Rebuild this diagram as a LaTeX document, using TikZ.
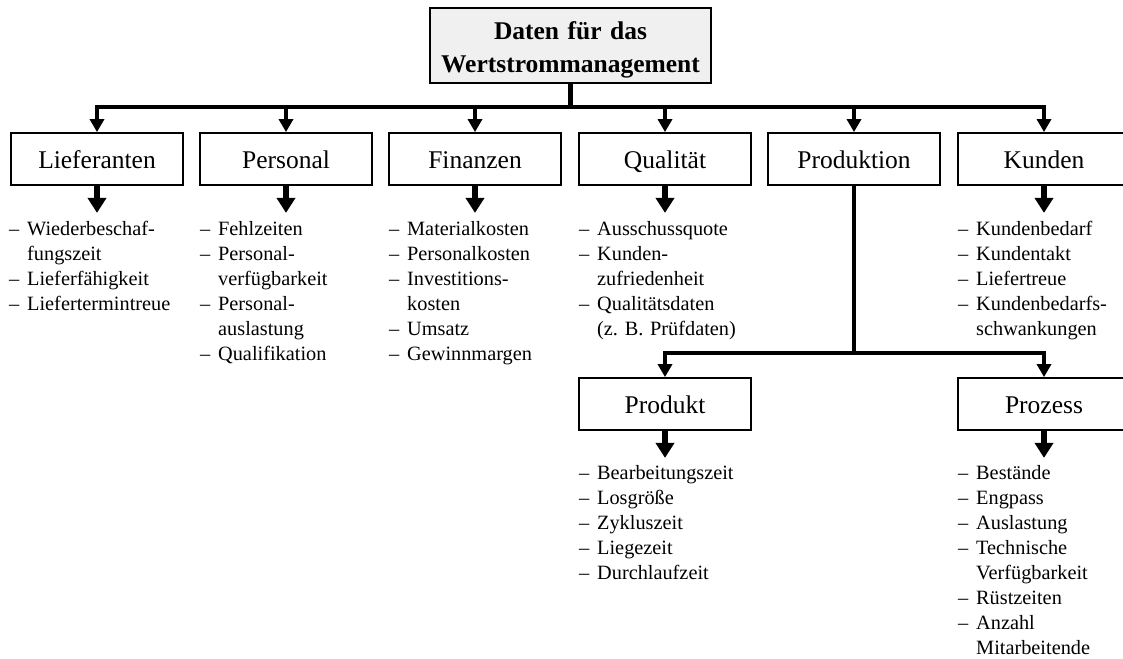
\documentclass[tikz,border=0pt]{standalone}
\usepackage{fontspec}
\setmainfont{Liberation Serif}
\usetikzlibrary{arrows.meta}
\frenchspacing

% list entry with a hanging dash, and a continuation line
\newcommand\itm{\makebox[18pt][l]{–}}
\newcommand\cnt{\makebox[18pt][l]{}}

\begin{document}
\begin{tikzpicture}[x=1pt,y=-1pt,
  box/.style={draw,line width=1.8pt,minimum width=172pt,minimum height=52pt,
    inner sep=0pt,text height=19pt,text depth=0pt,font=\fontsize{25.5}{30}\selectfont},
  title/.style={draw,line width=1.8pt,fill=black!6,minimum width=281pt,
    minimum height=75pt,inner sep=0pt,text width=279pt,align=center,
    text height=24pt,text depth=36pt,
    font=\bfseries\fontsize{25.5}{33}\selectfont},
  feed/.style={line width=4.2pt,-{Triangle[width=14pt,length=13pt]}},
  down/.style={line width=6pt,-{Triangle[width=18pt,length=15pt]}},
  list/.style={anchor=base west,inner sep=0pt,text width=180pt,align=left,
    font=\fontsize{20.3}{25}\selectfont}]

\clip (0,0) rectangle (1123,658);

% root
\node[title] (top) at (570.5,45.5) {Daten für das\\Wertstrommanagement};

% first level
\node[box] (b1) at (97,159)   {Lieferanten};
\node[box] (b2) at (286,159)  {Personal};
\node[box] (b3) at (475,159)  {Finanzen};
\node[box] (b4) at (665,159)  {Qualität};
\node[box] (b5) at (854,159)  {Produktion};
\node[box] (b6) at (1044,159) {Kunden};

% second level below Produktion
\node[box] (p1) at (665,404)  {Produkt};
\node[box] (p2) at (1044,404) {Prozess};

% tree connectors
\foreach \b in {b1,b2,b3,b4,b5,b6}
  \draw[feed] (top.south) -- ++(0,23.5) -| (\b.north);
\foreach \b in {p1,p2}
  \draw[feed] (b5.south) -- ++(0,167) -| (\b.north);

% arrows to the lists
\foreach \b in {b1,b2,b3,b4,b6,p1,p2}
  \draw[down] (\b.south) -- ++(0,27);

% lists
\node[list] (l1) at (9,235) {\itm Wiederbeschaf-\\\cnt fungszeit\\\itm Lieferfähigkeit\\\itm Liefertermintreue};
\node[list] (l2) at (200,235) {\itm Fehlzeiten\\\itm Personal-\\\cnt verfügbarkeit\\\itm Personal-\\\cnt auslastung\\\itm Qualifikation};
\node[list] (l3) at (389,235) {\itm Materialkosten\\\itm Personalkosten\\\itm Investitions-\\\cnt kosten\\\itm Umsatz\\\itm Gewinnmargen};
\node[list] (l4) at (579,235) {\itm Ausschussquote\\\itm Kunden-\\\cnt zufriedenheit\\\itm Qualitätsdaten\\\cnt (z.~B. Prüfdaten)};
\node[list] (l6) at (958,235) {\itm Kundenbedarf\\\itm Kundentakt\\\itm Liefertreue\\\itm Kundenbedarfs-\\\cnt schwankungen};
\node[list] (m1) at (579,479) {\itm Bearbeitungszeit\\\itm Losgröße\\\itm Zykluszeit\\\itm Liegezeit\\\itm Durchlaufzeit};
\node[list] (m2) at (958,479) {\itm Bestände\\\itm Engpass\\\itm Auslastung\\\itm Technische\\\cnt Verfügbarkeit\\\itm Rüstzeiten\\\itm Anzahl\\\cnt Mitarbeitende};
\end{tikzpicture}
\end{document}
